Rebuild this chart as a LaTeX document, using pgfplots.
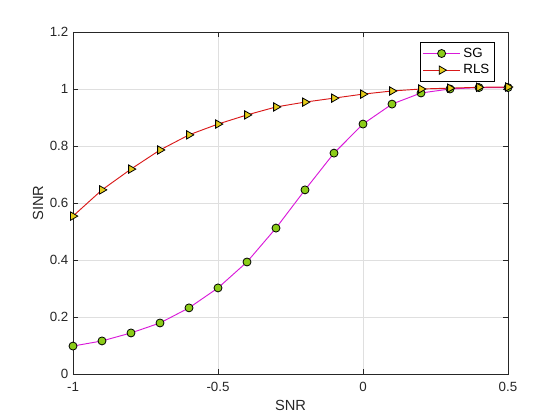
\documentclass[border=0pt]{standalone}
\usepackage{pgfplots}
\pgfplotsset{compat=1.18}
\usepackage{fontspec}
\setmainfont{Liberation Sans}

\definecolor{sgline}{rgb}{0.85,0.1,0.85}
\definecolor{sgfill}{rgb}{0.55,0.8,0.1}
\definecolor{rlsline}{rgb}{0.85,0.1,0.1}
\definecolor{rlsfill}{rgb}{0.9,0.8,0.1}
\definecolor{axgray}{rgb}{0.15,0.15,0.15}

\pgfplotstableread{
x sg rls
-1.0 0.098 0.554
-0.9 0.116 0.646
-0.8 0.144 0.719
-0.7 0.179 0.786
-0.6 0.232 0.839
-0.5 0.302 0.877
-0.4 0.393 0.909
-0.3 0.512 0.937
-0.2 0.646 0.954
-0.1 0.775 0.968
0.0 0.877 0.982
0.1 0.947 0.993
0.2 0.986 1.000
0.3 1.000 1.003
0.4 1.005 1.006
0.5 1.005 1.007
}\data

\begin{document}
\begin{tikzpicture}
\path (-54.75pt,-34.5pt) rectangle (365.25pt,280.5pt);
\begin{axis}[
    at={(0,0)}, anchor=south west,
    scale only axis,
    width=326.25pt, height=256.5pt,
    xmin=-1, xmax=0.5, ymin=0, ymax=1.2,
    xtick={-1,-0.5,0,0.5},
    ytick={0,0.2,0.4,0.6,0.8,1,1.2},
    yticklabels={0,0.2,0.4,0.6,0.8,1,1.2},
    xticklabels={-1,-0.5,0,0.5},
    tick align=inside,
    ticks=both,
    major tick length=3.5pt,
    grid=major,
    grid style={gray!25, line width=0.4pt},
    axis line style={axgray, line width=0.5pt},
    tick style={axgray, line width=0.5pt},
    tick label style={font=\fontsize{10}{12}\selectfont, text=axgray},
    xticklabel style={yshift=-2.5pt},
    xlabel={SNR}, ylabel={SINR},
    label style={font=\fontsize{11}{13}\selectfont, text=axgray},
    ylabel style={yshift=-2pt},
    legend style={at={(0.97,0.97)}, anchor=north east, draw=black, line width=0.4pt,
        font=\fontsize{10}{12}\selectfont, inner sep=2pt, row sep=0pt},
    legend cell align=left,
    legend image code/.code={
        \draw[mark repeat=2, mark phase=2] plot coordinates {(0pt,0pt) (14pt,0pt) (28pt,0pt)};
    },
]
\addplot[sgline, line width=0.7pt, mark=*, mark size=3pt,
    mark options={fill=sgfill, draw=black, line width=0.6pt},
    legend image post style={draw=sgline}] table[x=x, y=sg] {\data};
\addlegendentry{SG}
\addplot[rlsline, line width=0.7pt, mark=triangle*, mark size=3.6pt,
    mark options={fill=rlsfill, draw=black, rotate=-90, line width=0.6pt},
    legend image post style={draw=rlsline}] table[x=x, y=rls] {\data};
\addlegendentry{RLS}
\end{axis}
\end{tikzpicture}
\end{document}
